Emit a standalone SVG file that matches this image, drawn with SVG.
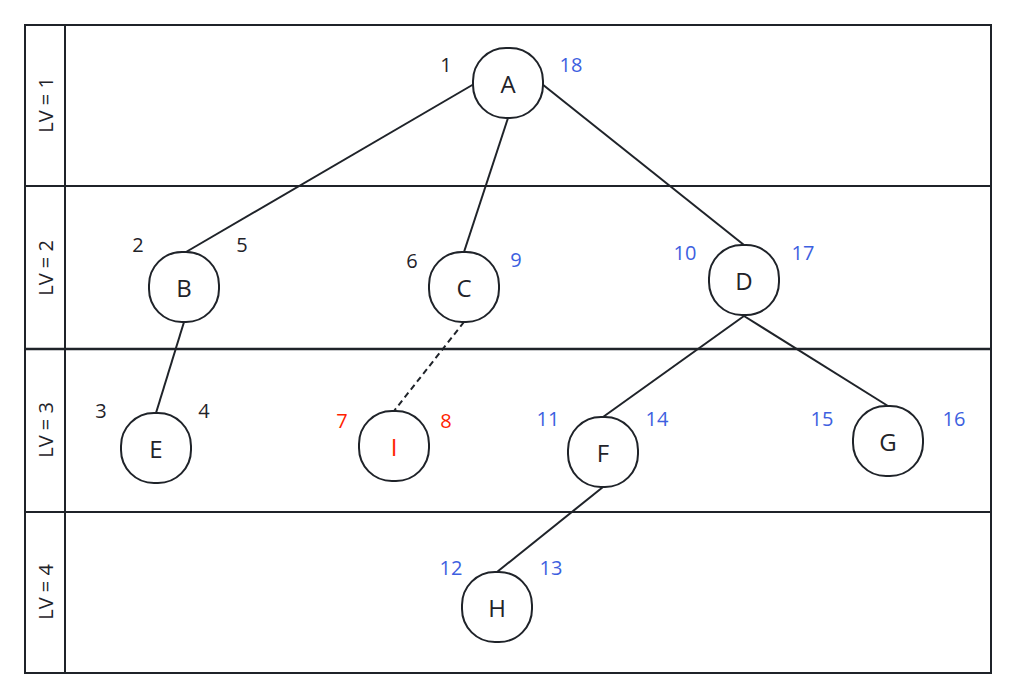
<svg xmlns="http://www.w3.org/2000/svg" width="1016" height="699" viewBox="0 0 1016 699">
<style>
.frame{fill:none;stroke:#1f2329;stroke-width:2}
.node rect{fill:#fff;stroke:#1f2329;stroke-width:2}
.node text{font-family:"Open Sans","Noto Sans",sans-serif;fill:#1f2329;text-anchor:middle;dominant-baseline:central}
.num{font-family:"Open Sans","Noto Sans",sans-serif;text-anchor:middle;dominant-baseline:central}
.k{fill:#1f2329}.b{fill:#3d5fe0}.r{fill:#ff2200}
.lane{font-family:"Open Sans","Noto Sans",sans-serif;fill:#1f2329;text-anchor:middle;dominant-baseline:central}
.edge{stroke:#1f2329;stroke-width:2;fill:none}
</style>
<rect width="1016" height="699" fill="#fff"/>
<g id="lanes">
<rect class="frame" x="25" y="25" width="966" height="648"/>
<line class="frame" x1="65" y1="25" x2="65" y2="673"/>
<line class="frame" x1="25" y1="186" x2="991" y2="186"/>
<line class="frame" x1="25" y1="349" x2="991" y2="349" style="stroke-width:2.6"/>
<line class="frame" x1="25" y1="512" x2="991" y2="512"/>
<g font-size="20">
<text class="lane" transform="translate(45,105) rotate(-90)">LV = 1</text>
<text class="lane" transform="translate(45,268) rotate(-90)">LV = 2</text>
<text class="lane" transform="translate(45,430) rotate(-90)">LV = 3</text>
<text class="lane" transform="translate(45,592) rotate(-90)">LV = 4</text>
</g>
</g>
<g id="connectors">
<line class="edge" x1="474" y1="84" x2="186" y2="252"/>
<line class="edge" x1="508" y1="118" x2="464" y2="252"/>
<line class="edge" x1="542" y1="84" x2="744" y2="245"/>
<line class="edge" x1="184" y1="322" x2="156" y2="413"/>
<line class="edge" x1="464" y1="322" x2="394" y2="411" stroke-dasharray="6,4"/>
<line class="edge" x1="744" y1="316" x2="603" y2="417"/>
<line class="edge" x1="744" y1="316" x2="888" y2="406"/>
<line class="edge" x1="603" y1="487" x2="497" y2="572"/>
</g>
<g font-size="24">
<g id="A" class="node"><rect x="473" y="48" width="70" height="70" rx="33"/><text x="508" y="83">A</text></g>
<g id="B" class="node"><rect x="149" y="252" width="70" height="70" rx="33"/><text x="184" y="287">B</text></g>
<g id="C" class="node"><rect x="429" y="252" width="70" height="70" rx="33"/><text x="464" y="287">C</text></g>
<g id="D" class="node"><rect x="709" y="245" width="70" height="70" rx="33"/><text x="744" y="280">D</text></g>
<g id="E" class="node"><rect x="121" y="413" width="70" height="70" rx="33"/><text x="156" y="448">E</text></g>
<g id="I" class="node"><rect x="359" y="411" width="70" height="70" rx="33"/><text x="394" y="446" style="fill:#ff2200">I</text></g>
<g id="F" class="node"><rect x="568" y="417" width="70" height="70" rx="33"/><text x="603" y="452">F</text></g>
<g id="G" class="node"><rect x="853" y="406" width="70" height="70" rx="33"/><text x="888" y="441">G</text></g>
<g id="H" class="node"><rect x="462" y="572" width="70" height="70" rx="33"/><text x="497" y="607">H</text></g>
</g>
<g id="labels" font-size="20">
<text class="num k" x="446" y="64">1</text>
<text class="num b" x="571" y="64">18</text>
<text class="num k" x="138" y="244">2</text>
<text class="num k" x="242" y="244">5</text>
<text class="num k" x="412" y="260">6</text>
<text class="num b" x="516" y="259">9</text>
<text class="num b" x="685" y="252">10</text>
<text class="num b" x="803" y="252">17</text>
<text class="num k" x="101" y="410">3</text>
<text class="num k" x="204" y="410">4</text>
<text class="num r" x="342" y="420">7</text>
<text class="num r" x="446" y="420">8</text>
<text class="num b" x="548" y="418">11</text>
<text class="num b" x="657" y="418">14</text>
<text class="num b" x="822" y="418">15</text>
<text class="num b" x="954" y="418">16</text>
<text class="num b" x="451" y="567">12</text>
<text class="num b" x="551" y="567">13</text>
</g>
</svg>
